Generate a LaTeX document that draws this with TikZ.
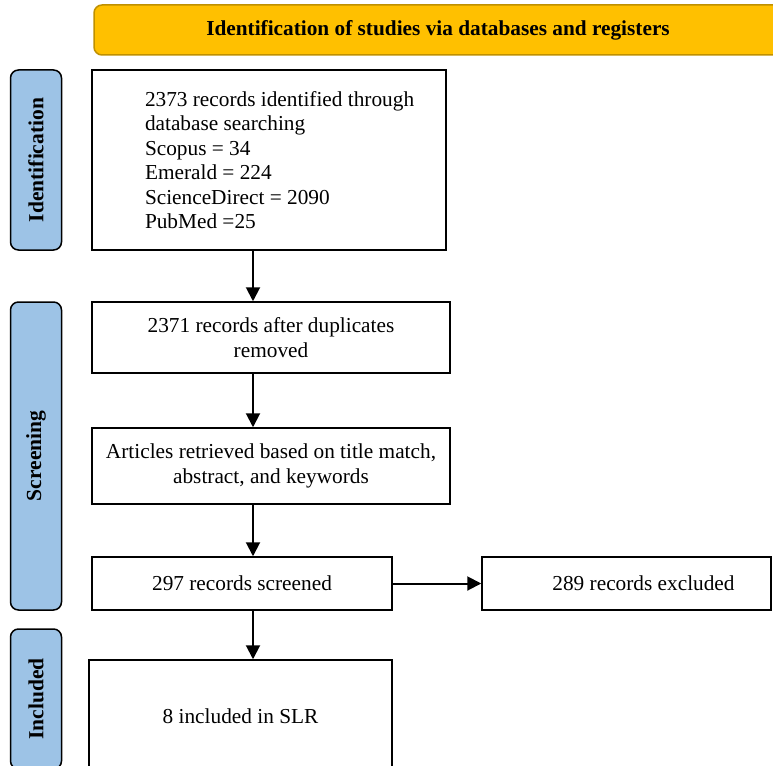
\documentclass[tikz,border=0pt]{standalone}
\usepackage{fontspec}
\setmainfont{Liberation Serif}
\usetikzlibrary{arrows.meta}
\definecolor{bannergold}{HTML}{FFC000}
\definecolor{bannerline}{HTML}{BF9000}
\definecolor{stageblue}{HTML}{9DC3E6}
\begin{document}
\begin{tikzpicture}[x=1pt, y=-1pt,
	box/.style={draw=black, line width=1.5pt, fill=white, inner sep=4pt, font=\fontsize{21.3}{24.5}\selectfont},
	stage/.style={draw=black, line width=1.5pt, fill=stageblue, rounded corners=8pt, rotate=90, minimum height=51pt, inner sep=0pt, font=\fontsize{21.5}{24}\selectfont\bfseries},
	banner/.style={draw=bannerline, line width=1.5pt, fill=bannergold, rounded corners=8pt, minimum width=696pt, minimum height=50pt, font=\fontsize{21.3}{24}\selectfont\bfseries},
	arr/.style={line width=2pt, -{Triangle[length=14pt, width=14pt]}}]
	\useasboundingbox (0,0) rectangle (773,765);

	% Banner
	\node[banner] (head) at (442,30) {\hspace*{-8pt}Identification of studies via databases and registers};

	% Stages
	\node[stage, minimum width=180pt] (ident) at (36,160) {Identification};
	\node[stage, minimum width=308pt] (screen) at (36,456) {Screening};
	\node[stage, minimum width=140pt] (incl) at (36,699) {Included};

	% Boxes
	\node[box, minimum width=354pt, minimum height=180pt, text width=338pt, align=flush left] (found) at (269,160)
		{\leftskip=45pt 2373 records identified through\\database searching\\Scopus = 34\\Emerald = 224\\ScienceDirect = 2090\\PubMed =25\par};
	\node[box, minimum width=358pt, minimum height=71pt, align=center] (dedup) at (271,337.5)
		{2371 records after duplicates\\removed};
	\node[box, minimum width=358pt, minimum height=76pt, align=center] (title) at (271,466)
		{Articles retrieved based on title match,\\abstract, and keywords};
	\node[box, minimum width=300pt, minimum height=53pt] (screened) at (242,583.5) {297 records screened};
	\node[box, minimum width=289pt, minimum height=53pt] (excl) at (626.5,583.5) {\hspace*{34pt}289 records excluded};
	\node[box, minimum width=303pt, minimum height=112pt] (slr) at (240.5,716) {8 included in SLR};

	% Arrows
	\coordinate (spine) at (253,0);
	\draw[arr] (found.south -| spine) -- (dedup.north -| spine);
	\draw[arr] (dedup.south -| spine) -- (title.north -| spine);
	\draw[arr] (title.south -| spine) -- (screened.north -| spine);
	\draw[arr] (screened.south -| spine) -- (slr.north -| spine);
	\draw[arr] (screened.east) -- (excl.west);
\end{tikzpicture}
\end{document}
